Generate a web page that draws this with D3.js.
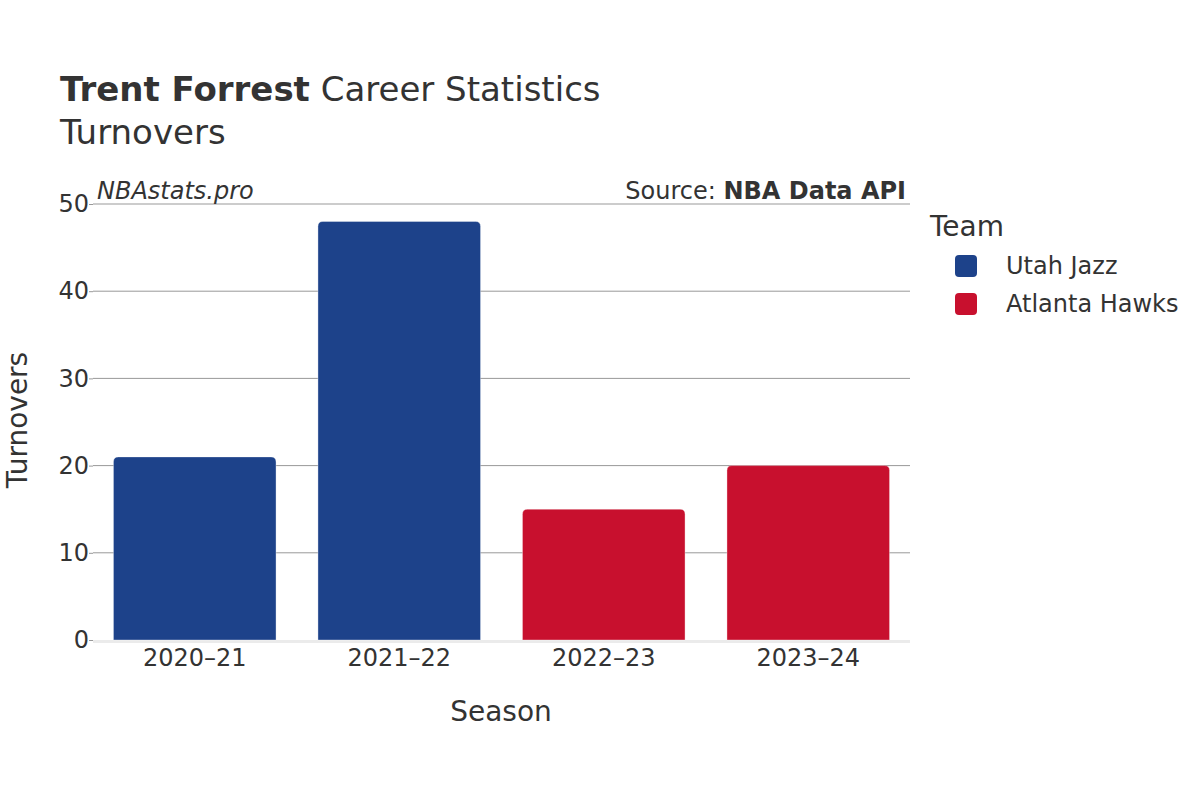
<!DOCTYPE html>
<html><head><meta charset="utf-8">
<script src="https://cdn.jsdelivr.net/npm/d3@7"></script>
<style>body{margin:0;background:#fff}svg{font-family:"DejaVu Sans",sans-serif}</style>
</head><body><svg id="c" width="1200" height="800"></svg>
<script>
const seasons = ["2020–21","2021–22","2022–23","2023–24"];
const turnovers = [21,48,15,20];
const teams = ["Utah Jazz","Utah Jazz","Atlanta Hawks","Atlanta Hawks"];
const legendTeams = ["Utah Jazz","Atlanta Hawks"];
const teamColors = ["#1d428a","#c8102e"];
const yTicks = [0,10,20,30,40,50];

const svg = d3.select("#c");
const m = {l:93, r:910, t:204, b:640};
const x = d3.scaleBand().domain(seasons).range([m.l,m.r]).paddingInner(0.205).paddingOuter(0.1);
const y = d3.scaleLinear().domain([0,50]).range([m.b,m.t]);
const color = d3.scaleOrdinal().domain(legendTeams).range(teamColors);

// grid
svg.append("g").selectAll("line").data(yTicks.filter(d=>d>0)).join("line")
  .attr("x1",m.l).attr("x2",m.r).attr("y1",d=>y(d)).attr("y2",d=>y(d))
  .attr("stroke","#999").attr("stroke-width",1);
// baseline
svg.append("line").attr("x1",m.l).attr("x2",m.r).attr("y1",y(0)+1.5).attr("y2",y(0)+1.5)
  .attr("stroke","#ebebeb").attr("stroke-width",3);

// y axis
const ya = svg.append("g").attr("transform",`translate(${m.l},0)`)
  .call(d3.axisLeft(y).tickValues(yTicks).tickSize(0).tickPadding(4));
ya.select(".domain").remove();
ya.selectAll("text").attr("font-size",24).attr("fill","#333").attr("font-family","DejaVu Sans");
ya.selectAll(".tick").append("line").attr("x1",-4).attr("x2",0).attr("stroke","#999");

// x axis
const xa = svg.append("g").attr("transform",`translate(0,${m.b})`)
  .call(d3.axisBottom(x).tickSize(0).tickPadding(9));
xa.select(".domain").remove();
xa.selectAll("text").attr("font-size",24).attr("fill","#333").attr("font-family","DejaVu Sans");

// bars
const r = 5;
svg.append("g").selectAll("path").data(seasons).join("path")
  .attr("d",(s,i)=>{
    const x0=x(s), w=x.bandwidth(), y0=y(turnovers[i]), yb=y(0);
    return `M${x0},${yb}V${y0+r}Q${x0},${y0} ${x0+r},${y0}H${x0+w-r}Q${x0+w},${y0} ${x0+w},${y0+r}V${yb}Z`;
  })
  .attr("fill",(s,i)=>color(teams[i]))
  .attr("stroke","rgba(255,255,255,0.35)").attr("stroke-width",1);

// titles
const t = svg.append("text").attr("x",60).attr("y",101).attr("font-size",34).attr("fill","#333");
t.append("tspan").attr("font-weight","bold").text("Trent Forrest");
t.append("tspan").text(" Career Statistics");
svg.append("text").attr("x",60).attr("y",144).attr("font-size",34).attr("fill","#333").text("Turnovers");

svg.append("text").attr("x",97).attr("y",199).attr("font-size",24).attr("font-style","italic").attr("fill","#333").text("NBAstats.pro");
const src = svg.append("text").attr("x",906).attr("y",199).attr("font-size",24).attr("text-anchor","end").attr("fill","#333");
src.append("tspan").text("Source: ");
src.append("tspan").attr("font-weight","bold").text("NBA Data API");

// axis titles
svg.append("text").attr("x",501).attr("y",721).attr("text-anchor","middle").attr("font-size",28).attr("fill","#333").text("Season");
svg.append("text").attr("transform","translate(27,420) rotate(-90)").attr("text-anchor","middle").attr("font-size",28).attr("fill","#333").text("Turnovers");

// legend
svg.append("text").attr("x",930).attr("y",236).attr("font-size",28).attr("fill","#333").text("Team");
const lg = svg.append("g").selectAll("g").data(legendTeams).join("g")
  .attr("transform",(d,i)=>`translate(955,${255+i*38})`);
lg.append("rect").attr("width",22).attr("height",22).attr("rx",4).attr("fill",d=>color(d));
lg.append("text").attr("x",51).attr("y",19).attr("font-size",24).attr("fill","#333").text(d=>d);
</script></body></html>
